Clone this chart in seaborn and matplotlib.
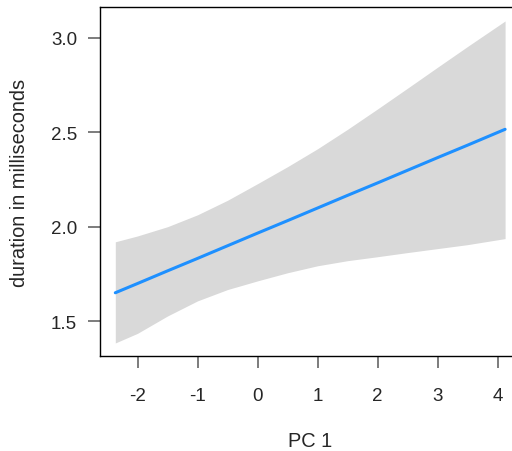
import numpy as np
import pandas as pd
import seaborn as sns
import matplotlib.pyplot as plt

# valores
pc1 = [-2.37, -2, -1.5, -1, -0.5, 0, 0.5, 1, 1.5, 2, 2.5, 3, 3.5, 4.125]
duracao = [1.650, 1.699, 1.766, 1.832, 1.899, 1.966, 2.032, 2.099, 2.166, 2.232, 2.299, 2.366, 2.432, 2.516]
ic_sup = [1.920, 1.951, 2.000, 2.063, 2.140, 2.228, 2.318, 2.413, 2.516, 2.624, 2.734, 2.845, 2.955, 3.090]
ic_inf = [1.384, 1.435, 1.527, 1.607, 1.667, 1.713, 1.756, 1.793, 1.820, 1.841, 1.863, 1.884, 1.905, 1.937]

df = pd.DataFrame({'PC 1': pc1, 'duracao': duracao, 'sup': ic_sup, 'inf': ic_inf})

sns.set_style('white')
plt.rcParams['font.family'] = ['Liberation Sans', 'DejaVu Sans']

fig = plt.figure(figsize=(5.12, 4.52), dpi=100)
ax = fig.add_axes([100/512, 95/452, 421/512, 349/452])

ax.fill_between(df['PC 1'], df['inf'], df['sup'], color='#D9D9D9', linewidth=0)
sns.lineplot(data=df, x='PC 1', y='duracao', color='#1E90FF', linewidth=2.2, ax=ax)

ax.set_xlim(-2.625, 4.39)
ax.set_ylim(1.315, 3.164)
ax.set_xticks([-2, -1, 0, 1, 2, 3, 4])
ax.set_yticks([1.5, 2.0, 2.5, 3.0])
ax.set_xticklabels(['-2', '-1', '0', '1', '2', '3', '4'])
ax.set_yticklabels(['1.5', '2.0', '2.5', '3.0'])
ax.tick_params(axis='both', direction='out', length=8.5, width=1.2, color='#666666',
               labelsize=13.5, pad=14, bottom=True, left=True)
ax.tick_params(axis='y', pad=8)

for s in ['left', 'top', 'bottom', 'right']:
    ax.spines[s].set_color('black')
    ax.spines[s].set_linewidth(1.0)

ax.set_xlabel('PC 1', fontsize=14.4, labelpad=19)
ax.set_ylabel('duration in milliseconds', fontsize=14.4, labelpad=16)

fig.savefig('out.png', dpi=100)
